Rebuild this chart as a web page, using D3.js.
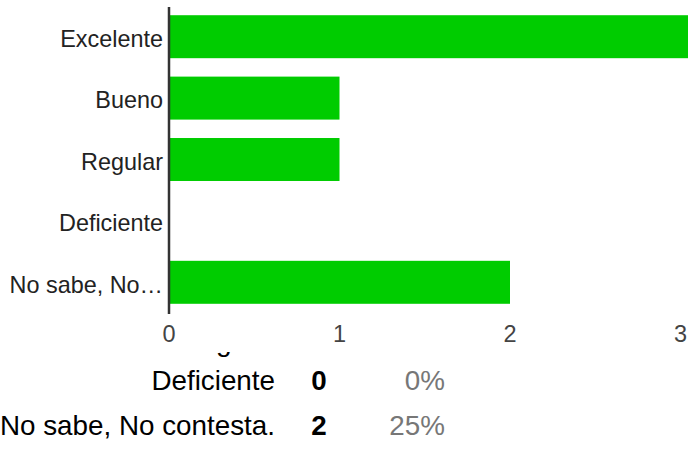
<!DOCTYPE html>
<html>
<head>
<meta charset="utf-8">
<script src="https://cdn.jsdelivr.net/npm/d3@7"></script>
<style>
  body { margin: 0; background: #fff; }
  svg { display: block; font-family: Arial, "Liberation Sans", sans-serif; }
</style>
</head>
<body>
<div id="chart"></div>
<script>
// chart data
const categories = ["Excelente", "Bueno", "Regular", "Deficiente", "No sabe, No contesta."];
const counts = [4, 1, 1, 0, 2];
const xTicks = [0, 1, 2, 3, 4];

// summary rows shown under the chart
const tableLabels = ["Deficiente", "No sabe, No contesta."];
const tableCounts = [0, 2];
const tablePercents = ["0%", "25%"];

const width = 688;
const height = 456;

const svg = d3.select("#chart")
  .append("svg")
  .attr("width", width)
  .attr("height", height);

const data = categories.map((c, i) => ({ name: c, value: counts[i] }));

const x = d3.scaleLinear().domain([0, 4]).range([169, 851]);
const y = d3.scaleBand()
  .domain(categories)
  .range([6, 313])
  .paddingInner(0.3)
  .paddingOuter(0.15);

// heading text hidden behind the chart, only the descender shows
svg.append("clipPath").attr("id", "under")
  .append("rect").attr("x", 0).attr("y", 352).attr("width", width).attr("height", 20);
svg.append("text")
  .attr("clip-path", "url(#under)")
  .attr("x", 216)
  .attr("y", 351)
  .style("font-size", "28px")
  .attr("fill", "#000")
  .text("g");

// bars
svg.selectAll(".bar")
  .data(data)
  .enter()
  .append("rect")
  .attr("class", "bar")
  .attr("x", x(0) + 1)
  .attr("y", d => y(d.name))
  .attr("width", d => Math.max(0, x(d.value) - x(0) - 1))
  .attr("height", y.bandwidth())
  .attr("fill", "#00cc00");

// category labels (truncated like the original)
const shortName = s => s.length > 12 ? "No sabe, No…" : s;
svg.selectAll(".cat")
  .data(data)
  .enter()
  .append("text")
  .attr("x", 163)
  .attr("y", d => y(d.name) + y.bandwidth() / 2)
  .attr("dy", "0.44em")
  .attr("text-anchor", "end")
  .style("font-size", "23.4px")
  .attr("fill", "#222")
  .text(d => shortName(d.name));

// vertical baseline
svg.append("line")
  .attr("x1", x(0)).attr("x2", x(0))
  .attr("y1", 7).attr("y2", 314)
  .attr("stroke", "#333")
  .attr("stroke-width", 2.5);

// x tick labels
svg.selectAll(".tick")
  .data(xTicks)
  .enter()
  .append("text")
  .attr("x", d => x(d))
  .attr("y", 342)
  .attr("text-anchor", "middle")
  .style("font-size", "23.5px")
  .attr("fill", "#444")
  .text(d => d);

// summary table
const rowY = [390, 435];
tableLabels.forEach((lab, i) => {
  svg.append("text")
    .attr("x", 275).attr("y", rowY[i])
    .attr("text-anchor", "end")
    .style("font-size", "27.8px")
    .attr("fill", "#000")
    .text(lab);
  svg.append("text")
    .attr("x", 319).attr("y", rowY[i])
    .attr("text-anchor", "middle")
    .style("font-size", "27.8px")
    .style("font-weight", "bold")
    .attr("fill", "#000")
    .text(tableCounts[i]);
  svg.append("text")
    .attr("x", 445).attr("y", rowY[i])
    .attr("text-anchor", "end")
    .style("font-size", "27.8px")
    .attr("fill", "#777")
    .text(tablePercents[i]);
});
</script>
</body>
</html>
